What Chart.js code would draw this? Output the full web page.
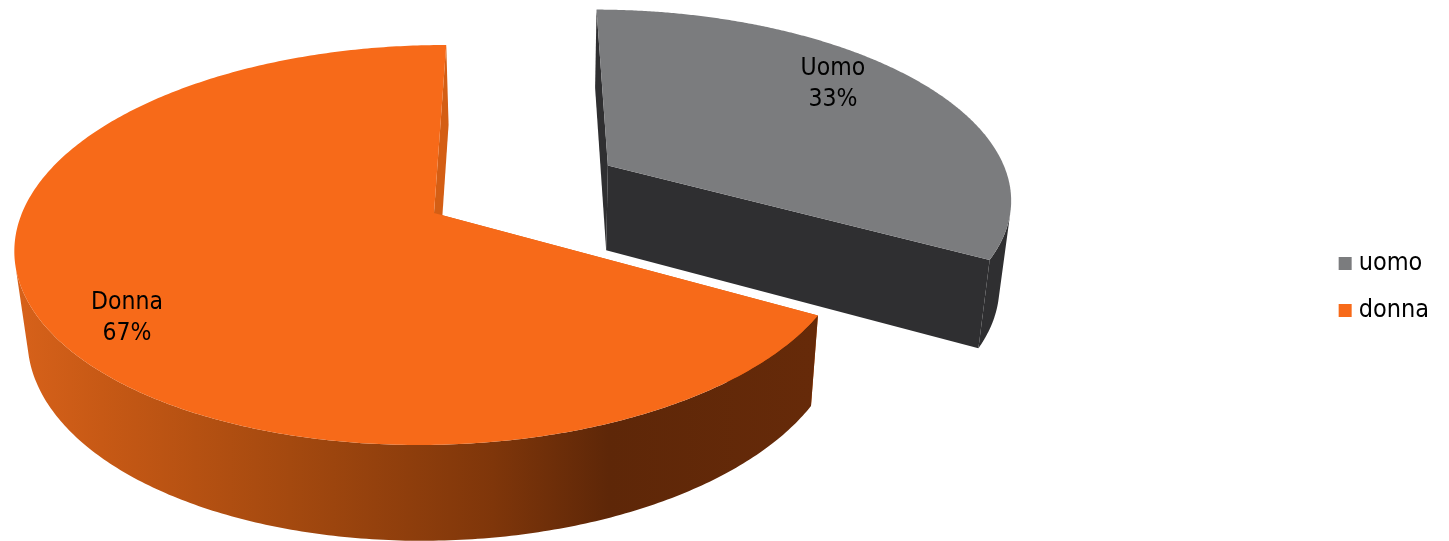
<!DOCTYPE html>
<html><head><meta charset="utf-8">
<style>html,body{margin:0;padding:0;background:#fff;overflow:hidden}canvas{display:block}</style>
<script src="https://cdn.jsdelivr.net/npm/chart.js@4/dist/chart.umd.min.js"></script>
</head><body><canvas id="c" width="1449" height="541"></canvas>
<script>
const seriesNames = ["uomo", "donna"];
const sliceLabels = ["Uomo", "Donna"];
const percentValues = [33, 67];
const sliceColors = ["#7B7C7E", "#F76A19"];

// perspective projection of the unit pie disc onto the page
const P = {A:412, S:-82.2, cx:434, B:160.8, cy:213, k:-0.16};
const project = (u,v) => { const d = 1 + P.k*v; return [(P.A*u + P.S*v + P.cx)/d, (P.B*v + P.cy)/d]; };
const drop = ([x,y]) => [x*0.975 + 13.5, y*1.04 + 78];
const explode = [0.5, 0];
const labelSpot = [{a:-37.6, r:0.793}, {a:143.4, r:0.835}];
const FONT = '24.5px "DejaVu Sans Condensed"';

const pie3d = {
  id:'pie3d',
  beforeDatasetsDraw(chart){
    const ctx = chart.ctx, arcs = chart.getDatasetMeta(0).data;
    const grad = ctx.createLinearGradient(0,0,chart.width,0);
    [[0.015,'#D6611A'],[0.07,'#C75915'],[0.2,'#A4490F'],[0.34,'#7F360A'],[0.42,'#5E2708'],[0.56,'#662A09'],[1,'#662A09']]
      .forEach(s=>grad.addColorStop(s[0],s[1]));
    const poly = (pts,fill) => { ctx.beginPath(); pts.forEach((p,i)=>i?ctx.lineTo(p[0],p[1]):ctx.moveTo(p[0],p[1])); ctx.closePath(); ctx.fillStyle=fill; ctx.fill(); };
    arcs.forEach((arc,i)=>{
      const {startAngle:s, endAngle:e} = arc.getProps(['startAngle','endAngle'],true);
      const mid=(s+e)/2, ou=Math.cos(mid)*explode[i], ov=Math.sin(mid)*explode[i];
      const rim=[]; const N=360;
      for(let j=0;j<=N;j++){ const t=s+(e-s)*j/N; rim.push(project(ou+Math.cos(t),ov+Math.sin(t))); }
      const apex=project(ou,ov);
      const wallFill = i===0 ? '#2F2F31' : grad;
      const faceFill = i===0 ? '#2F2F31' : '#D45E14';
      // flat wall at the start of the cut (behind the round wall)
      poly([apex,rim[0],drop(rim[0]),drop(apex)],faceFill);
      // round outer wall: only the camera-facing swept quads
      ctx.beginPath();
      for(let j=0;j<N;j++){
        const a=rim[j], b=rim[j+1], c=drop(b), d=drop(a);
        const facing=(b[0]-a[0])*(d[1]-a[1])-(b[1]-a[1])*(d[0]-a[0]);
        if(facing>=0) continue;
        ctx.moveTo(a[0],a[1]); ctx.lineTo(b[0],b[1]); ctx.lineTo(c[0],c[1]); ctx.lineTo(d[0],d[1]); ctx.closePath();
      }
      ctx.fillStyle=wallFill; ctx.fill('nonzero');
      // flat wall at the end of the cut
      poly([apex,rim[N],drop(rim[N]),drop(apex)],faceFill);
      // top face
      poly([apex,...rim],arc.options.backgroundColor);
    });
    ctx.save();
    ctx.font=FONT; ctx.fillStyle='#000'; ctx.textAlign='center'; ctx.textBaseline='middle';
    arcs.forEach((arc,i)=>{
      const {startAngle:s, endAngle:e} = arc.getProps(['startAngle','endAngle'],true);
      const mid=(s+e)/2, a=labelSpot[i].a*Math.PI/180, r=labelSpot[i].r;
      const [x,y]=project(Math.cos(mid)*explode[i]+Math.cos(a)*r, Math.sin(mid)*explode[i]+Math.sin(a)*r);
      ctx.fillText(sliceLabels[i],x,y-16);
      ctx.fillText(percentValues[i]+'%',x,y+15);
    });
    ctx.restore();
    return false;
  }
};

new Chart(document.getElementById('c'),{
  type:'pie',
  data:{labels:seriesNames,datasets:[{data:percentValues,backgroundColor:sliceColors,borderWidth:0}]},
  plugins:[pie3d],
  options:{
    responsive:false,animation:false,devicePixelRatio:1,rotation:0.2,
    layout:{padding:{top:33,right:10}},
    plugins:{
      tooltip:{enabled:false},
      legend:{position:'right',labels:{
        usePointStyle:true,pointStyle:'rect',boxWidth:2,boxHeight:13,padding:22,color:'#000',
        font:{family:'"DejaVu Sans Condensed"',size:25}
      }}
    }
  }
});
</script></body></html>
